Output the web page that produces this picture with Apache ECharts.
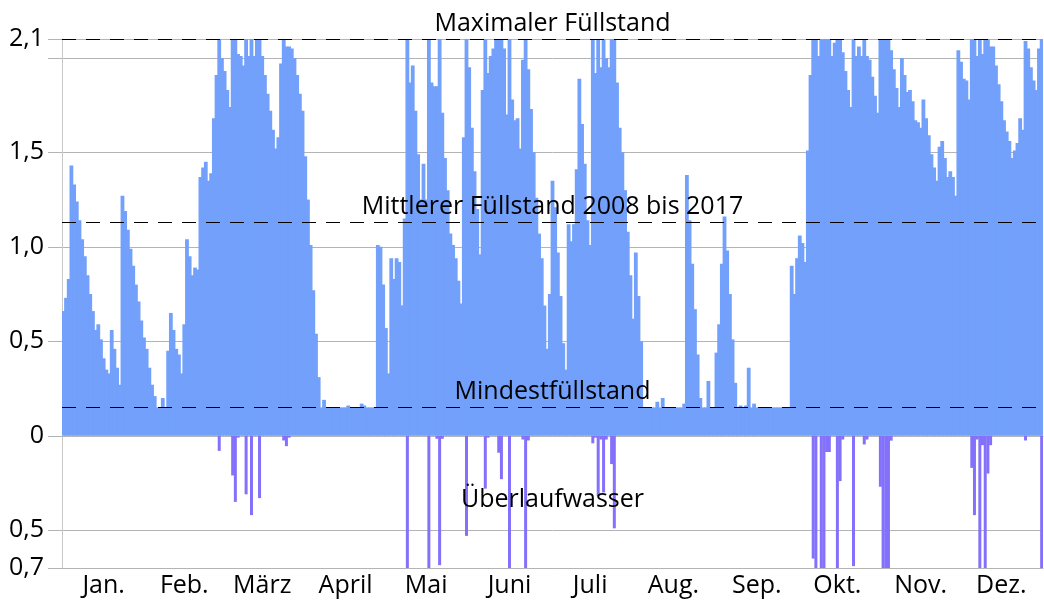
<!DOCTYPE html>
<html>
<head>
<meta charset="utf-8">
<title>Füllstand</title>
<script src="https://cdn.jsdelivr.net/npm/echarts@6/dist/echarts.min.js"></script>
<style>
  html, body { margin: 0; padding: 0; background: #fff; }
  #chart { width: 1044px; height: 603px; }
</style>
</head>
<body>
<div id="chart"></div>
<script>
// Monate
const monthNames = ['Jan.', 'Feb.', 'März', 'April', 'Mai', 'Juni', 'Juli', 'Aug.', 'Sep.', 'Okt.', 'Nov.', 'Dez.']
const monthDays = [31, 28, 31, 30, 31, 30, 31, 31, 30, 31, 30, 31]

// Füllstand pro Tag, ein Array je Monat
const fillJan = [0.66, 0.73, 0.83, 1.43, 1.33, 1.24, 1.14, 1.04, 0.95, 0.85, 0.75, 0.66, 0.56, 0.59, 0.51, 0.41, 0.35, 0.33, 0.56, 0.46, 0.36, 0.27, 1.27, 1.19, 1.09, 0.99, 0.90, 0.80, 0.71, 0.61, 0.52]
const fillFeb = [0.46, 0.36, 0.27, 0.21, 0.15, 0.15, 0.20, 0.15, 0.45, 0.65, 0.56, 0.46, 0.43, 0.33, 0.59, 1.04, 0.95, 0.85, 0.89, 0.88, 1.37, 1.42, 1.45, 1.35, 1.39, 1.68, 1.91, 2.10]
const fillMar = [2.00, 1.93, 1.83, 1.74, 2.10, 2.10, 2.02, 2.01, 1.96, 2.10, 2.01, 2.10, 2.01, 2.10, 2.10, 2.01, 1.91, 1.81, 1.72, 1.62, 1.52, 1.58, 1.97, 2.10, 2.06, 2.06, 2.05, 2.00, 1.91, 1.81, 1.72]
const fillApr = [1.48, 1.25, 1.01, 0.77, 0.54, 0.31, 0.15, 0.19, 0.15, 0.15, 0.15, 0.15, 0.15, 0.15, 0.15, 0.15, 0.16, 0.15, 0.15, 0.15, 0.15, 0.17, 0.16, 0.15, 0.15, 0.15, 0.15, 1.01, 1.00, 0.80]
const fillMay = [0.57, 0.33, 0.94, 0.83, 0.94, 0.92, 0.69, 1.15, 2.10, 1.87, 1.96, 1.72, 1.49, 1.25, 1.44, 1.25, 2.10, 1.87, 1.85, 1.85, 2.10, 1.71, 1.47, 1.30, 1.07, 1.01, 0.94, 0.82, 0.70, 1.58, 2.10]
const fillJun = [1.95, 1.63, 1.40, 1.20, 0.96, 1.83, 2.10, 1.92, 2.01, 2.05, 2.10, 2.10, 2.10, 2.05, 1.70, 2.10, 1.78, 1.67, 1.68, 1.52, 1.99, 2.10, 1.94, 1.73, 1.50, 1.26, 1.07, 0.94, 0.69, 0.46]
const fillJul = [0.75, 1.35, 1.21, 0.97, 0.74, 0.49, 0.35, 1.12, 1.03, 1.12, 1.41, 1.89, 1.65, 1.44, 1.14, 1.01, 2.10, 1.92, 2.10, 1.95, 2.10, 2.00, 1.95, 2.10, 2.10, 1.87, 1.63, 1.50, 1.30, 1.08, 0.85]
const fillAug = [0.62, 0.97, 0.74, 0.50, 0.15, 0.15, 0.15, 0.15, 0.15, 0.18, 0.15, 0.20, 0.15, 0.15, 0.15, 0.15, 0.15, 0.15, 0.15, 0.17, 1.38, 1.14, 0.91, 0.67, 0.43, 0.20, 0.15, 0.15, 0.29, 0.15, 0.15]
const fillSep = [0.44, 0.59, 0.91, 1.16, 0.98, 0.75, 0.51, 0.28, 0.15, 0.16, 0.15, 0.16, 0.36, 0.15, 0.17, 0.15, 0.15, 0.15, 0.15, 0.15, 0.15, 0.15, 0.15, 0.15, 0.15, 0.15, 0.15, 0.15, 0.90, 0.75]
const fillOct = [0.94, 1.06, 1.02, 0.92, 1.51, 1.91, 2.10, 2.10, 2.01, 2.10, 2.10, 2.10, 2.10, 2.01, 2.08, 2.10, 2.10, 2.03, 1.93, 1.83, 1.74, 2.10, 2.01, 2.06, 2.01, 2.10, 2.01, 1.99, 1.90, 1.80, 1.71]
const fillNov = [2.10, 2.10, 2.10, 2.10, 2.04, 1.94, 1.84, 1.74, 2.00, 1.91, 1.82, 1.83, 1.77, 1.67, 1.66, 1.63, 1.78, 1.68, 1.59, 1.49, 1.42, 1.35, 1.53, 1.56, 1.47, 1.37, 1.40, 1.37, 1.27, 2.04]
const fillDec = [1.98, 1.89, 1.88, 1.78, 2.10, 2.10, 2.01, 2.10, 2.02, 2.10, 2.10, 2.06, 2.06, 1.96, 1.86, 1.77, 1.67, 1.61, 1.56, 1.47, 1.51, 1.55, 1.68, 1.62, 2.09, 2.05, 1.95, 1.88, 1.83, 2.05, 2.10]

// Überlaufwasser: Tag im Jahr (0 = 1. Jan.) und Menge
const overflowDay = [58, 63, 64, 65, 68, 70, 73, 82, 83, 84, 128, 136, 139, 140, 141, 150, 157, 158, 162, 163, 166, 171, 172, 173, 197, 198, 199, 200, 201, 202, 204, 205, 279, 280, 282, 283, 284, 285, 288, 289, 290, 294, 298, 299, 304, 305, 306, 307, 308, 338, 339, 340, 341, 342, 343, 344, 345, 358, 364]
const overflowValue = [0.08, 0.21, 0.35, 0.01, 0.31, 0.42, 0.33, 0.025, 0.055, 0.01, 0.7, 0.7, 0.016, 0.685, 0.016, 0.53, 0.28, 0.01, 0.09, 0.23, 0.7, 0.02, 0.7, 0.025, 0.04, 0.01, 0.32, 0.02, 0.30, 0.02, 0.15, 0.49, 0.65, 0.7, 0.7, 0.7, 0.086, 0.086, 0.7, 0.24, 0.02, 0.69, 0.046, 0.02, 0.27, 0.7, 0.7, 0.7, 0.026, 0.17, 0.42, 0.02, 0.7, 0.05, 0.7, 0.20, 0.05, 0.025, 0.7]

// Referenzlinien
const maxLevel = 2.1
const meanLevel = 1.13
const minLevel = 0.15
const overflowLabelAt = -0.42

// y-Achse
const yTickValues = [-0.7, -0.5, 0, 0.5, 1, 1.5, 2, 2.1]
const yLabelValues = [-0.7, -0.5, 0, 0.5, 1, 1.5, 2.1]

const fillLevel = [].concat(fillJan, fillFeb, fillMar, fillApr, fillMay, fillJun, fillJul, fillAug, fillSep, fillOct, fillNov, fillDec)
const days = fillLevel.map((v, i) => i + 1)

// Überlauf nach unten
const overflow = fillLevel.map(() => '-')
overflowDay.forEach((d, i) => {
  overflow[d] = -overflowValue[i]
})

// Monatsgrenzen und Beschriftung in der Monatsmitte
const tickSet = new Set()
const labelAt = {}
let acc = 0
monthDays.forEach((n, i) => {
  tickSet.add(acc)
  labelAt[acc + Math.floor(n / 2)] = monthNames[i]
  acc += n
})

const gray = '#b4b4b4'
const font = 'Open Sans'
const fontSize = 25
const blue = '#72a0fa'
const purple = '#8471fb'

const chart = echarts.init(document.getElementById('chart'))
const option = {
  animation: false,
  textStyle: { fontFamily: font },
  grid: { left: 62, right: 1, top: 39, bottom: 35 },
  xAxis: [
    {
      type: 'category',
      data: days,
      position: 'bottom',
      axisLine: { onZero: false, lineStyle: { color: gray } },
      axisTick: { interval: (i) => tickSet.has(i), length: 15, lineStyle: { color: gray } },
      axisLabel: {
        interval: (i) => labelAt[i] !== undefined,
        formatter: (v, i) => labelAt[i],
        fontFamily: font,
        fontSize: fontSize,
        color: '#000',
        margin: 5
      },
      splitLine: { show: false }
    },
    {
      // Nulllinie mit Monatsstrichen
      type: 'category',
      data: days,
      position: 'top',
      axisLine: { onZero: true, lineStyle: { color: gray } },
      axisTick: { inside: true, interval: (i) => tickSet.has(i), length: 15, lineStyle: { color: gray } },
      axisLabel: { show: false },
      splitLine: { show: false }
    }
  ],
  yAxis: {
    type: 'value',
    min: -0.7,
    max: 2.1,
    axisLine: { show: true, lineStyle: { color: '#c8c8c8' } },
    axisTick: { show: true, length: 14, customValues: yTickValues, lineStyle: { color: gray } },
    axisLabel: {
      customValues: yLabelValues,
      formatter: (v) => v === 0 ? '0' : Math.abs(v).toFixed(1).replace('.', ','),
      fontFamily: font,
      fontSize: fontSize,
      color: '#000',
      margin: 18
    },
    splitLine: { show: true, lineStyle: { color: gray } }
  },
  series: [
    {
      name: 'Füllstand',
      type: 'bar',
      xAxisIndex: 0,
      data: fillLevel,
      // etwas breiter als ein Tag, damit keine Fugen entstehen
      barWidth: 3.8,
      itemStyle: { color: blue },
      markLine: {
        silent: true,
        symbol: 'none',
        lineStyle: { color: '#000', type: [14, 10], width: 1 },
        label: { position: 'middle', formatter: '{b}', fontFamily: font, fontSize: fontSize, color: '#000', distance: 3 },
        data: [
          { name: 'Maximaler Füllstand', yAxis: maxLevel },
          { name: 'Mittlerer Füllstand 2008 bis 2017', yAxis: meanLevel },
          { name: 'Mindestfüllstand', yAxis: minLevel }
        ]
      }
    },
    {
      name: 'Überlaufwasser',
      type: 'bar',
      xAxisIndex: 1,
      data: overflow,
      barWidth: 3,
      itemStyle: { color: purple },
      markLine: {
        silent: true,
        symbol: 'none',
        lineStyle: { color: 'rgba(0,0,0,0)', width: 1 },
        label: { show: true, position: 'middle', formatter: '{b}', fontFamily: font, fontSize: fontSize, color: '#000', distance: 3 },
        data: [{ name: 'Überlaufwasser', yAxis: overflowLabelAt }]
      }
    }
  ]
}
chart.setOption(option)
</script>
</body>
</html>
